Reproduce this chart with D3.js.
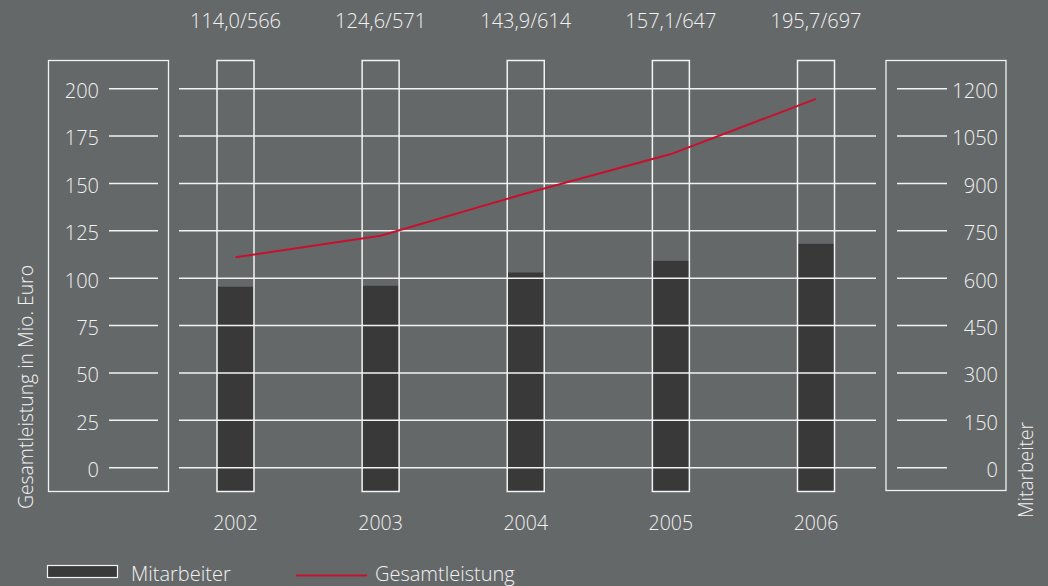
<!DOCTYPE html>
<html>
<head>
<meta charset="utf-8">
<script src="https://cdn.jsdelivr.net/npm/d3@7"></script>
<style>
  html, body { margin: 0; padding: 0; background: #656869; }
  svg { display: block; font-family: "Open Sans", "Noto Sans", sans-serif; }
</style>
</head>
<body>
<div id="chart"></div>
<script>
// chart data
const years = ["2002", "2003", "2004", "2005", "2006"];
const mitarbeiter = [573, 576, 618, 655, 709];          // bars, right axis
const gesamtleistung = [111.0, 122.4, 144.7, 165.5, 194.6]; // line, left axis
const topLabels = ["114,0/566", "124,6/571", "143,9/614", "157,1/647", "195,7/697"];
const leftTicks = [0, 25, 50, 75, 100, 125, 150, 175, 200];
const rightTicks = [0, 150, 300, 450, 600, 750, 900, 1050, 1200];

const width = 1048, height = 586;
const plotTop = 60, plotBottom = 491;
const textColor = "#f2f2f2";

const svg = d3.select("#chart")
  .append("svg")
  .attr("width", width)
  .attr("height", height);

svg.append("rect")
  .attr("width", width)
  .attr("height", height)
  .attr("fill", "#656869");

// scales
const x = d3.scalePoint()
  .domain(years)
  .range([235.5, 816]);

const yLeft = d3.scaleLinear()
  .domain([0, 200])
  .range([467.7, 88.7]);

const yRight = d3.scaleLinear()
  .domain([0, 1200])
  .range([467.7, 88.7]);

const colW = 36;

// helper for the light labels
function label(sel, size) {
  return sel.attr("fill", textColor)
    .attr("font-size", size + "px")
    .attr("font-weight", 300);
}

// left axis box
svg.append("rect")
  .attr("x", 48.5).attr("y", plotTop + 0.5)
  .attr("width", 120).attr("height", plotBottom - plotTop)
  .attr("fill", "none")
  .attr("stroke", textColor)
  .attr("stroke-width", 1.3);

// right axis box
svg.append("rect")
  .attr("x", 886).attr("y", plotTop + 0.5)
  .attr("width", 120).attr("height", plotBottom - plotTop - 1)
  .attr("fill", "none")
  .attr("stroke", textColor)
  .attr("stroke-width", 1.3);

// left ticks
const leftAxis = svg.append("g").attr("class", "left-axis");
leftTicks.forEach(t => {
  leftAxis.append("line")
    .attr("x1", 109).attr("x2", 158)
    .attr("y1", yLeft(t)).attr("y2", yLeft(t))
    .attr("stroke", textColor)
    .attr("stroke-width", 1.5);
  leftAxis.append("text")
    .attr("x", 99)
    .attr("y", yLeft(t))
    .attr("dy", "0.47em")
    .attr("text-anchor", "end")
    .call(label, 20)
    .text(t);
});

// right ticks
const rightAxis = svg.append("g").attr("class", "right-axis");
rightTicks.forEach(t => {
  rightAxis.append("line")
    .attr("x1", 897).attr("x2", 947)
    .attr("y1", yRight(t)).attr("y2", yRight(t))
    .attr("stroke", textColor)
    .attr("stroke-width", 1.5);
  rightAxis.append("text")
    .attr("x", 998)
    .attr("y", yRight(t))
    .attr("dy", "0.47em")
    .attr("text-anchor", "end")
    .call(label, 20)
    .text(t);
});

// bars (drawn from the bottom of the frame)
svg.append("g")
  .selectAll("rect")
  .data(years)
  .join("rect")
  .attr("x", d => x(d) - colW / 2)
  .attr("y", (d, i) => yRight(mitarbeiter[i]))
  .attr("width", colW)
  .attr("height", (d, i) => plotBottom - yRight(mitarbeiter[i]))
  .attr("fill", "#393939");

// grid lines across the plot
svg.append("g")
  .selectAll("line")
  .data(leftTicks)
  .join("line")
  .attr("x1", 179).attr("x2", 876)
  .attr("y1", d => yLeft(d)).attr("y2", d => yLeft(d))
  .attr("stroke", textColor)
  .attr("stroke-width", 1.5);

// column frames
svg.append("g")
  .selectAll("rect")
  .data(years)
  .join("rect")
  .attr("x", d => x(d) - colW / 2 - 0.5)
  .attr("y", plotTop + 0.5)
  .attr("width", colW + 1)
  .attr("height", plotBottom - plotTop)
  .attr("fill", "none")
  .attr("stroke", textColor)
  .attr("stroke-width", 1.5);

// line
const line = d3.line()
  .x((d, i) => x(years[i]))
  .y(d => yLeft(d));

svg.append("path")
  .datum(gesamtleistung)
  .attr("d", line)
  .attr("fill", "none")
  .attr("stroke", "#c8102e")
  .attr("stroke-width", 2);

// year labels
svg.append("g")
  .selectAll("text")
  .data(years)
  .join("text")
  .attr("x", d => x(d))
  .attr("y", 530)
  .attr("text-anchor", "middle")
  .call(label, 19.5)
  .text(d => d);

// top value labels
svg.append("g")
  .selectAll("text")
  .data(topLabels)
  .join("text")
  .attr("x", (d, i) => x(years[i]))
  .attr("y", 27.5)
  .attr("text-anchor", "middle")
  .call(label, 20)
  .text(d => d);

// axis titles
svg.append("text")
  .attr("transform", "translate(32.5, 387) rotate(-90)")
  .attr("text-anchor", "middle")
  .call(label, 20)
  .attr("textLength", 244)
  .attr("lengthAdjust", "spacingAndGlyphs")
  .text("Gesamtleistung in Mio. Euro");

svg.append("text")
  .attr("transform", "translate(1033, 470) rotate(-90)")
  .attr("text-anchor", "middle")
  .call(label, 20)
  .attr("textLength", 96)
  .attr("lengthAdjust", "spacingAndGlyphs")
  .text("Mitarbeiter");

// legend
svg.append("rect")
  .attr("x", 47.5).attr("y", 565.5)
  .attr("width", 70).attr("height", 12)
  .attr("fill", "#393939")
  .attr("stroke", textColor)
  .attr("stroke-width", 1.2);

svg.append("text")
  .attr("x", 131).attr("y", 581)
  .call(label, 20)
  .text("Mitarbeiter");

svg.append("line")
  .attr("x1", 296).attr("x2", 367)
  .attr("y1", 575.5).attr("y2", 575.5)
  .attr("stroke", "#c8102e")
  .attr("stroke-width", 2);

svg.append("text")
  .attr("x", 375).attr("y", 581)
  .call(label, 20)
  .text("Gesamtleistung");
</script>
</body>
</html>
